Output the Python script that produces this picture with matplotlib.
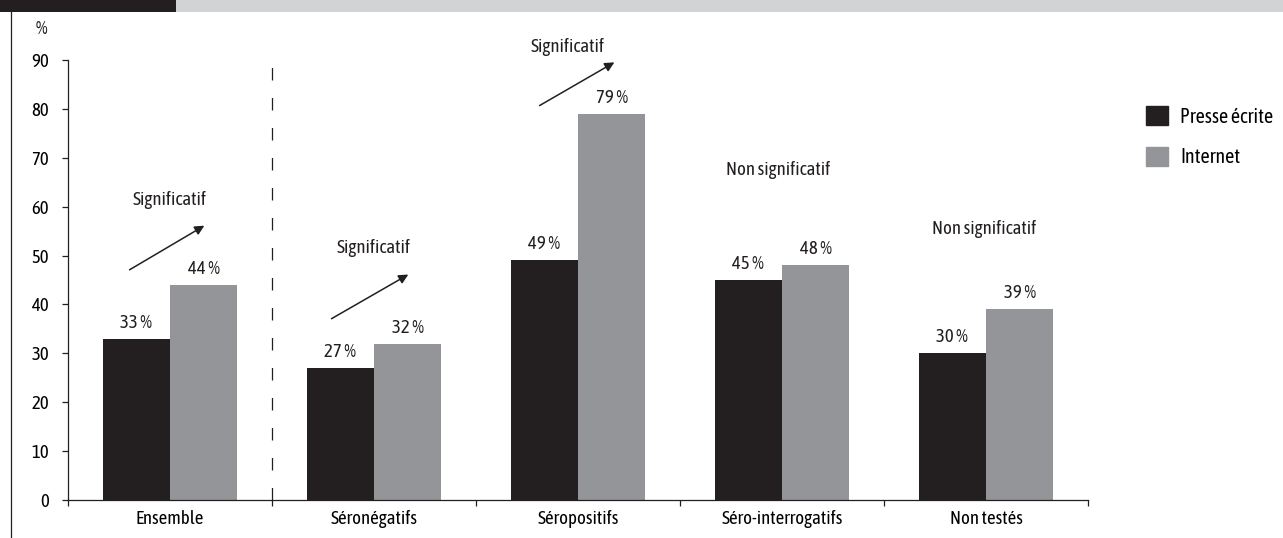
import matplotlib
matplotlib.use('Agg')
import matplotlib.pyplot as plt
from matplotlib.patches import Patch, Rectangle
from matplotlib.lines import Line2D
import numpy as np

categories = ["Ensemble", "Séronégatifs", "Séropositifs", "Séro-interrogatifs", "Non testés"]
presse = [33, 27, 49, 45, 30]
internet = [44, 32, 79, 48, 39]
series_names = ["Presse écrite", "Internet"]

# (text, category position, y) of the significance notes
notes = [
    ("Significatif", 0.0, 61.3),
    ("Significatif", 1.0, 51.5),
    ("Significatif", 1.95, 92.6),
    ("Non significatif", 2.98, 67.5),
    ("Non significatif", 3.99, 55.4),
]
# arrows (x0, y0, x1, y1) in data coords
arrows = [
    (-0.21, 46.8, 0.18, 56.4),
    (0.78, 36.8, 1.18, 46.4),
    (1.80, 80.4, 2.19, 89.8),
]

BLACK = "#231f20"
GREY = "#939598"
LIGHT = "#d1d3d4"
FS = 13.5

plt.rcParams['font.family'] = ['Asap Condensed', 'DejaVu Sans']

fig = plt.figure(figsize=(12.83, 5.38), dpi=100)
ax = fig.add_axes([68 / 1283, 1 - 500 / 538, 1020 / 1283, 440 / 538])

x = np.arange(len(categories))
w = 0.33
ax.bar(x - w / 2, presse, w, color=BLACK, label=series_names[0])
ax.bar(x + w / 2, internet, w, color=GREY, label=series_names[1])

for xi, v in zip(x - w / 2, presse):
    ax.annotate(f"{v} %", (xi, v), xytext=(0, 11.5), textcoords="offset points",
                ha="center", va="center", fontsize=FS, color=BLACK)
for xi, v in zip(x + w / 2, internet):
    ax.annotate(f"{v} %", (xi, v), xytext=(0, 11.5), textcoords="offset points",
                ha="center", va="center", fontsize=FS, color=BLACK)

for txt, xn, yn in notes:
    ax.text(xn, yn, txt, ha="center", va="center", fontsize=FS, color=BLACK, clip_on=False)
for x0, y0, x1, y1 in arrows:
    ax.annotate("", xy=(x1, y1), xytext=(x0, y0), annotation_clip=False,
                arrowprops=dict(arrowstyle="-|>", color=BLACK, lw=1.1, mutation_scale=14))

ax.axvline(0.5, ymin=0, ymax=0.995, color=BLACK, lw=0.9, dashes=(10, 14))

ax.set_xlim(-0.5, 4.5)
ax.set_ylim(0, 90)
ax.set_yticks(range(0, 91, 10))
ax.set_xticks(np.arange(-0.5, 5, 1))
ax.set_xticklabels([])
ax.set_xticks(x, minor=True)
ax.set_xticklabels(categories, minor=True)
ax.tick_params(axis="x", which="major", length=4.5, direction="out", color=BLACK, width=0.9)
ax.tick_params(axis="x", which="minor", length=0, pad=7, labelsize=FS)
ax.tick_params(axis="y", length=4.5, direction="out", color=BLACK, width=0.9, labelsize=FS, pad=9)
for s in ["top", "right"]:
    ax.spines[s].set_visible(False)
for s in ["left", "bottom"]:
    ax.spines[s].set_color(BLACK)
    ax.spines[s].set_linewidth(0.9)

fig.text(41 / 1283, 1 - 29 / 538, "%", ha="center", va="center", fontsize=FS, color=BLACK)

# banner on top and left frame line
fig.add_artist(Rectangle((0, 1 - 12 / 538), 176 / 1283, 12 / 538, transform=fig.transFigure,
                         color=BLACK, lw=0))
fig.add_artist(Rectangle((176 / 1283, 1 - 12 / 538), 1 - 176 / 1283, 12 / 538,
                         transform=fig.transFigure, color=LIGHT, lw=0))
fig.add_artist(Line2D([11 / 1283, 11 / 1283], [0, 1 - 12 / 538], transform=fig.transFigure,
                      color=BLACK, lw=0.9))

handles = [Patch(color=BLACK), Patch(color=GREY)]
fig.legend(handles, series_names, loc="upper left", bbox_to_anchor=(1138 / 1283, 1 - 98 / 538),
           frameon=False, fontsize=14.5, handlelength=1.1, handleheight=1.1, handletextpad=0.6,
           labelspacing=1.0, borderaxespad=0)

fig.savefig("out.png", dpi=100)
